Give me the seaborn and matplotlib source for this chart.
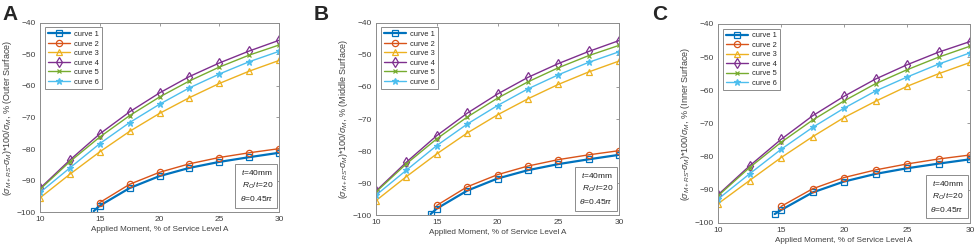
import numpy as np
import pandas as pd
import seaborn as sns
import matplotlib
matplotlib.use('Agg')
import matplotlib.pyplot as plt

# x positions (applied moment, % of service level A)
x_full = [10, 12.5, 15, 17.5, 20, 22.5, 25, 27.5, 30]
x_c2 = [15, 17.5, 20, 22.5, 25, 27.5, 30]
x_c1 = [14.5, 15, 17.5, 20, 22.5, 25, 27.5, 30]

# panel A - outer surface
a_c1 = [-99.7, -98.0, -92.4, -88.6, -86.0, -84.1, -82.6, -81.2]
a_c2 = [-97.0, -91.2, -87.4, -84.7, -82.7, -81.2, -79.9]
a_c3 = [-95.5, -88.0, -80.9, -74.4, -68.7, -63.7, -59.2, -55.3, -51.9]
a_c4 = [-92.5, -83.5, -75.2, -68.2, -62.2, -57.0, -52.7, -48.9, -45.5]
a_c5 = [-92.8, -84.0, -76.2, -69.4, -63.5, -58.4, -54.0, -50.2, -47.0]
a_c6 = [-93.8, -86.0, -78.3, -71.6, -65.8, -60.6, -56.2, -52.3, -49.0]

# panel B - middle surface
b_c1 = [-99.7, -98.0, -92.4, -88.6, -86.0, -84.1, -82.6, -81.2]
b_c2 = [-97.0, -91.2, -87.4, -84.7, -82.7, -81.2, -79.9]
b_c3 = [-95.5, -88.0, -80.9, -74.4, -68.7, -63.7, -59.2, -55.3, -51.9]
b_c4 = [-92.5, -83.5, -75.2, -68.2, -62.2, -57.0, -52.7, -48.9, -45.5]
b_c5 = [-92.8, -84.0, -76.2, -69.4, -63.5, -58.4, -54.0, -50.2, -47.0]
b_c6 = [-93.8, -86.0, -78.3, -71.6, -65.8, -60.6, -56.2, -52.3, -49.0]

# panel C - inner surface
c_c1 = [-97.3, -96.1, -90.8, -87.5, -85.2, -83.5, -82.1, -80.8]
c_c2 = [-95.0, -89.7, -86.3, -84.0, -82.2, -80.7, -79.5]
c_c3 = [-94.2, -87.2, -80.3, -74.0, -68.2, -63.3, -58.8, -55.0, -51.6]
c_c4 = [-91.5, -82.8, -74.8, -67.7, -61.8, -56.6, -52.3, -48.5, -45.3]
c_c5 = [-91.8, -83.3, -75.7, -69.0, -63.2, -58.0, -53.8, -50.0, -46.7]
c_c6 = [-92.8, -85.2, -77.8, -71.2, -65.4, -60.2, -56.0, -52.1, -48.7]

curve_names = ['curve 1', 'curve 2', 'curve 3', 'curve 4', 'curve 5', 'curve 6']
surfaces = ['Outer Surface', 'Middle Surface', 'Inner Surface']
panel_tags = ['A', 'B', 'C']

colors = ['#0072BD', '#D95319', '#EDB120', '#7E2F8E', '#77AC30', '#4DBEEE']
markers = ['s', 'o', '^', 'd', 'x', '*']
msizes = [4, 4.5, 4.5, 5, 3, 4.5]

sns.set_style('white')
plt.rcParams['font.family'] = ['Liberation Sans', 'DejaVu Sans']
plt.rcParams['mathtext.fontset'] = 'custom'
plt.rcParams['mathtext.rm'] = 'Liberation Sans'
plt.rcParams['mathtext.it'] = 'Liberation Sans:italic'

fig = plt.figure(figsize=(9.76, 2.49), dpi=100)
W, H = 976, 249
# axes boxes in pixels: left, right, top, bottom
boxes = [(40, 279, 23, 212), (376, 619, 23, 215), (718, 970, 24, 223)]
tag_x = [2, 314, 652]

panels = [
    [a_c1, a_c2, a_c3, a_c4, a_c5, a_c6],
    [b_c1, b_c2, b_c3, b_c4, b_c5, b_c6],
    [c_c1, c_c2, c_c3, c_c4, c_c5, c_c6],
]
xs = [x_c1, x_c2, x_full, x_full, x_full, x_full]

grey = '#8c8c8c'
for p, curves in enumerate(panels):
    l, r, t, b = boxes[p]
    ax = fig.add_axes([l / W, 1 - b / H, (r - l) / W, (b - t) / H])
    for i, y in enumerate(curves):
        df = pd.DataFrame({'x': xs[i], 'y': y})
        face = colors[i] if markers[i] == '*' else 'none'
        sns.lineplot(data=df, x='x', y='y', ax=ax, color=colors[i],
                     marker=markers[i], markersize=msizes[i],
                     markerfacecolor=face, markeredgecolor=colors[i],
                     markeredgewidth=0.9, linewidth=1.6 if i == 0 else 1.0,
                     label=curve_names[i], legend=False)
    ax.set_xlim(10, 30)
    ax.set_ylim(-100, -40)
    ax.set_xticks([10, 15, 20, 25, 30])
    ax.set_yticks([-100, -90, -80, -70, -60, -50, -40])
    ax.tick_params(direction='in', length=2.5, width=0.6, colors=grey,
                   labelcolor='#404040', labelsize=6, top=True, right=True,
                   pad=3)
    for s in ax.spines.values():
        s.set_color(grey)
        s.set_linewidth(0.7)
    ax.set_xlabel('Applied Moment, % of Service Level A', fontsize=5.9,
                  color='#404040', labelpad=2)
    ax.set_ylabel(r'$(\sigma_{M+RS}$-$\sigma_M)$*100/$\sigma_M$, % (' + surfaces[p] + ')',
                  fontsize=6.5, color='#404040', labelpad=2)
    leg = ax.legend(ax.lines, curve_names, loc='upper left', fontsize=5.4,
                    fancybox=False, edgecolor=grey, framealpha=1,
                    handlelength=3.0, borderaxespad=0.6, labelspacing=0.3,
                    borderpad=0.45, handletextpad=0.5)
    leg.get_frame().set_linewidth(0.7)
    ax.text(0.975, 0.045, '$t$=40mm\n$R_O$/$t$=20\n$\\theta$=0.45$\\pi$',
            transform=ax.transAxes, ha='right', va='bottom', fontsize=6,
            color='#202020', linespacing=1.5,
            bbox=dict(boxstyle='square,pad=0.5', fc='white', ec=grey, lw=0.7))
    fig.text(tag_x[p] / W, 1 - 5 / H, panel_tags[p], fontsize=15,
             fontweight='bold', ha='left', va='top')

fig.savefig('out.png', dpi=100)
